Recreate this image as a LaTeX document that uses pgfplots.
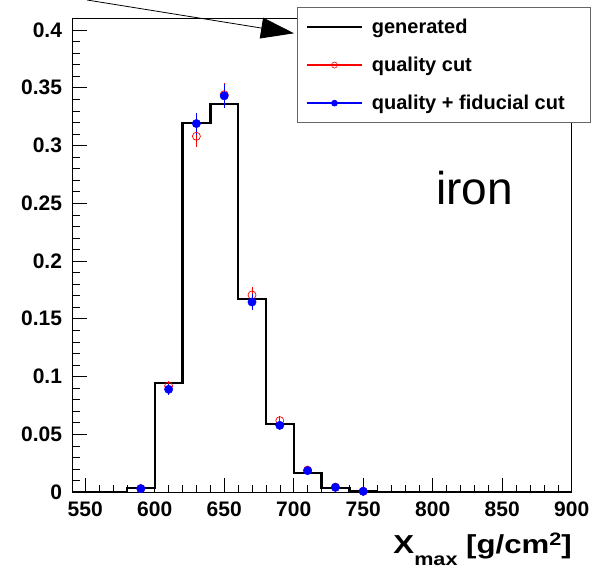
\documentclass[border=0pt]{standalone}
\usepackage{fontspec}
\setmainfont{Liberation Sans}
\usepackage{pgfplots}
\usepackage{pgfplotstable}
\pgfplotsset{compat=1.18}
\usetikzlibrary{arrows.meta}

% 54pt legend line in a given colour and thickness, as a thin filled bar
\newcommand\legline[2]{%
  \fill[color=#1] (0pt,-#2/2) rectangle (54pt,#2/2);}

% legend samples: line, with one marker in the middle for the point series
\pgfplotsset{
  generated legend/.style={legend image code/.code={\legline{black}{1.3pt}}},
  quality legend/.style={legend image code/.code={%
    \legline{red}{0.7pt}
    \path plot[mark=o, mark size=3pt, mark options={color=red, fill=white, line width=0.6pt}]
      coordinates {(27pt,0pt)};}},
  fiducial legend/.style={legend image code/.code={%
    \legline{blue}{0.7pt}
    \path plot[mark=*, mark size=3pt, mark options={color=blue, fill=blue, line width=0.6pt}]
      coordinates {(27pt,0pt)};}},
}

% Xmax distribution for iron showers: generated histogram (20 g/cm^2 bins)
\pgfplotstableread{
x      y
540    0
580    0.0033
600    0.0946
620    0.3197
640    0.336
660    0.167
680    0.0589
700    0.0162
720    0.0035
740    0.001
760    0
900    0
}\generated

% after quality cut
\pgfplotstableread{
x    y       e
590  0.0030  0.0010
610  0.0918  0.0045
630  0.3080  0.0090
650  0.3440  0.0100
670  0.1706  0.0070
690  0.0618  0.0040
710  0.0190  0.0025
730  0.0043  0.0010
750  0.0006  0.0005
}\quality

% after quality + fiducial cut
\pgfplotstableread{
x    y       e
590  0.0029  0.0010
610  0.0889  0.0045
630  0.3190  0.0095
650  0.3430  0.0104
670  0.1645  0.0070
690  0.0577  0.0040
710  0.0185  0.0025
730  0.0040  0.0010
750  0.0006  0.0005
}\fiducial

% fixed-width legend text cell
\newcommand\legtext[1]{\makebox[208pt][l]{\rule{0pt}{14.6pt}#1}}

\begin{document}
\begin{tikzpicture}[x=1pt,y=1pt]
\path[use as bounding box] (0,0) rectangle (591,568);
\begin{axis}[
  at={(72.7pt,76pt)}, anchor=south west,
  scale only axis, width=499pt, height=474pt,
  xmin=541, xmax=900, ymin=0, ymax=0.4104,
  axis line style={line width=0.8pt},
  tick align=inside,
  xtick pos=bottom, ytick pos=left,
  xtick={550,600,650,700,750,800,850,900},
  xticklabels={550,600,650,700,750,800,850,900},
  ytick={0,0.05,0.1,0.15,0.2,0.25,0.3,0.35,0.4},
  yticklabels={0,0.05,0.1,0.15,0.2,0.25,0.3,0.35,0.4},
  minor x tick num=4, minor y tick num=4,
  major tick length=14pt, minor tick length=7.5pt,
  every tick/.style={black, line width=0.6pt},
  ticklabel style={font=\fontsize{21}{21}\selectfont\bfseries, inner sep=0pt},
  xticklabel style={yshift=-10pt},
  yticklabel style={xshift=-10.5pt},
  legend cell align=left,
  legend style={at={(rel axis cs:0.4489,1.0232)}, anchor=north west,
    draw=black!60, line width=0.8pt, fill=white,
    font=\fontsize{20}{24}\selectfont\bfseries,
    inner xsep=10pt, inner ysep=11.5pt, row sep=22pt, column sep=10pt,
    nodes={inner sep=0pt}},
]
\addlegendimage{generated legend}
\addlegendentry{\legtext{generated}}
\addlegendimage{quality legend}
\addlegendentry{\legtext{quality cut}}
\addlegendimage{fiducial legend}
\addlegendentry{\legtext{quality + fiducial cut}}

\addplot[forget plot, const plot, black, line width=2.4pt] table[x=x, y=y] {\generated};

\addplot[forget plot, red, only marks, mark=o, mark size=4pt,
  mark options={fill=white, line width=0.7pt},
  error bars/.cd, y dir=both, y explicit,
  error bar style={red, line width=0.7pt}, error mark=none]
  table[x=x, y=y, y error=e] {\quality};

\addplot[forget plot, blue, only marks, mark=*, mark size=4.2pt,
  mark options={fill=blue},
  error bars/.cd, y dir=both, y explicit,
  error bar style={blue, line width=0.7pt}, error mark=none]
  table[x=x, y=y, y error=e] {\fiducial};
\end{axis}

% annotation arrow pointing at the legend
\draw[line width=0.8pt, -{Triangle[length=33pt, width=21pt]}] (87,568) -- (294,534.7);

\node[anchor=base west, inner sep=0pt, font=\fontsize{46}{46}\selectfont] at (436,363) {iron};

\node[anchor=base east, inner sep=0pt] at (572,14.7)
  {\scalebox{1.2}[1]{\fontsize{26}{26}\selectfont\bfseries
    X\raisebox{-12pt}{\fontsize{18}{18}\selectfont max}
    [g/cm\raisebox{8pt}{\fontsize{18}{18}\selectfont 2}]}};
\end{tikzpicture}
\end{document}
